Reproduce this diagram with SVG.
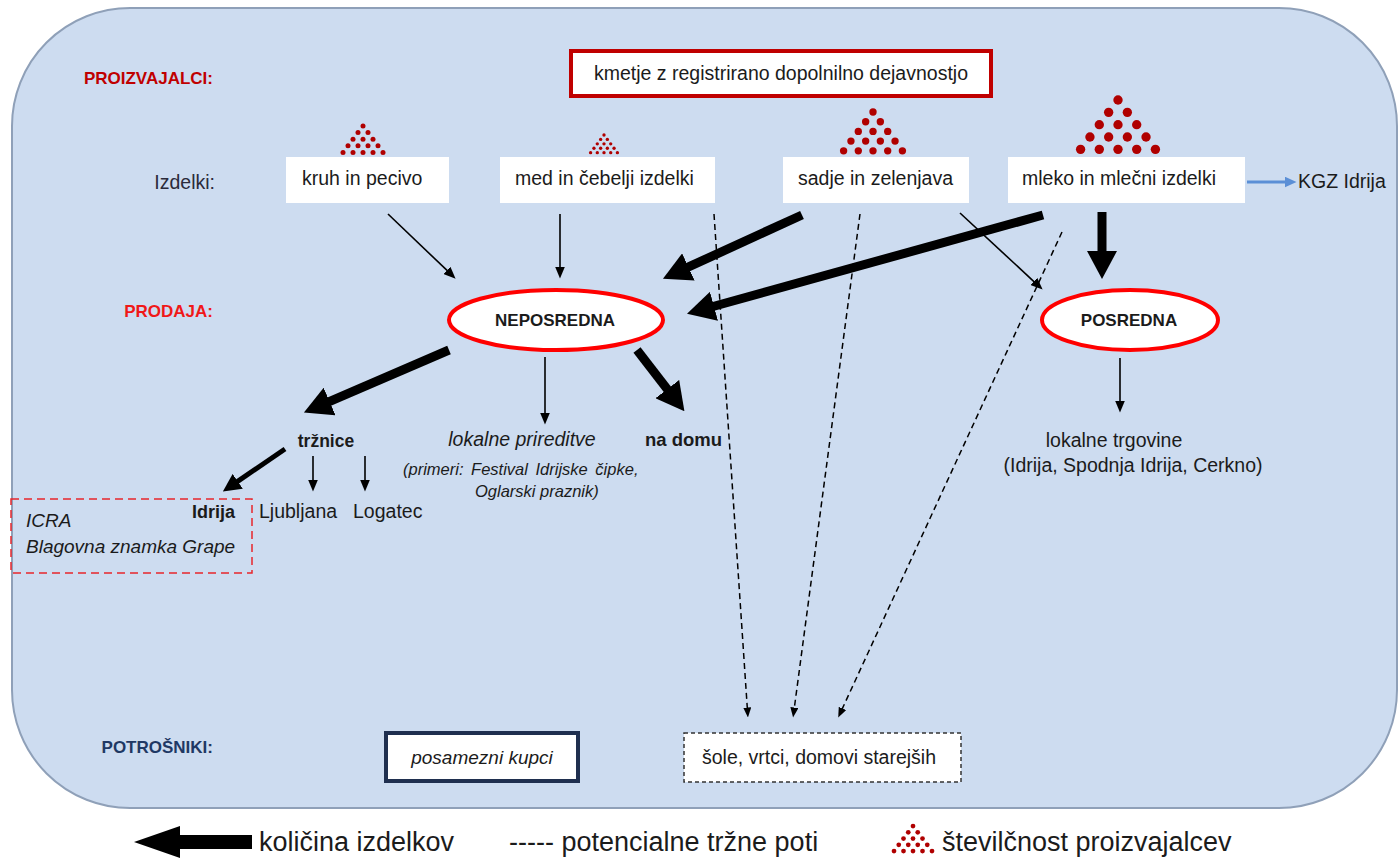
<svg xmlns="http://www.w3.org/2000/svg" width="1399" height="859" viewBox="0 0 1399 859">
<defs>
<style>
text{font-family:"Liberation Sans",Arial,sans-serif;fill:#1b1b1b}
.hdr{font-weight:bold;font-size:17px}
.box{font-size:19.5px}
.wb{fill:#fff}
.ell{fill:#fff;stroke:#ff0000;stroke-width:4}
.b{font-weight:bold}
.it{font-style:italic}
.thin{stroke:#000;stroke-width:1.6;fill:none}
.thick{stroke:#000;stroke-width:9;fill:none}
.mid{stroke:#000;stroke-width:5;fill:none}
.dash{stroke:#000;stroke-width:1.5;stroke-dasharray:6 4;fill:none}
.leg{font-size:27px}
</style>
<marker id="hThin" markerUnits="userSpaceOnUse" viewBox="0 0 12 10" markerWidth="12" markerHeight="10" refX="0.5" refY="5" orient="auto"><path d="M0,0 L12,5 L0,10 z" fill="#000"/></marker>
<marker id="hThick" markerUnits="userSpaceOnUse" viewBox="0 0 28 30" markerWidth="28" markerHeight="30" refX="1" refY="15" orient="auto"><path d="M0,0 L28,15 L0,30 z" fill="#000"/></marker>
<marker id="hMid" markerUnits="userSpaceOnUse" viewBox="0 0 18 18" markerWidth="18" markerHeight="18" refX="1" refY="9" orient="auto"><path d="M0,0 L18,9 L0,18 z" fill="#000"/></marker>
<marker id="hDash" markerUnits="userSpaceOnUse" viewBox="0 0 10 8" markerWidth="10" markerHeight="8" refX="0.5" refY="4" orient="auto"><path d="M0,0 L10,4 L0,8 z" fill="#000"/></marker>
<marker id="hBlue" markerUnits="userSpaceOnUse" viewBox="0 0 12 11" markerWidth="12" markerHeight="11" refX="0.5" refY="5.5" orient="auto"><path d="M0,0 L12,5.5 L0,11 z" fill="#5b8fd6"/></marker>
<g id="tri" fill="#b00000">
<circle cx="0" cy="0" r="2.5"/>
<circle cx="-5" cy="6.6" r="2.5"/><circle cx="5" cy="6.6" r="2.5"/>
<circle cx="-10" cy="13.2" r="2.5"/><circle cx="0" cy="13.2" r="2.5"/><circle cx="10" cy="13.2" r="2.5"/>
<circle cx="-15" cy="19.8" r="2.5"/><circle cx="-5" cy="19.8" r="2.5"/><circle cx="5" cy="19.8" r="2.5"/><circle cx="15" cy="19.8" r="2.5"/>
<circle cx="-20" cy="26.4" r="2.5"/><circle cx="-10" cy="26.4" r="2.5"/><circle cx="0" cy="26.4" r="2.5"/><circle cx="10" cy="26.4" r="2.5"/><circle cx="20" cy="26.4" r="2.5"/>
</g>
</defs>

<g id="background">
<rect x="12" y="8" width="1385" height="800" rx="118" ry="118" fill="#cddcf0" stroke="#8fa0b8" stroke-width="2"/>
</g>

<g id="labels">
<text class="hdr" x="213" y="84" text-anchor="end" style="fill:#c00000">PROIZVAJALCI:</text>
<text x="215" y="189" text-anchor="end" font-size="19.5" style="fill:#2b2b3b">Izdelki:</text>
<text class="hdr" x="213" y="317" text-anchor="end" style="fill:#f01818">PRODAJA:</text>
<text class="hdr" x="213" y="753" text-anchor="end" style="fill:#1f3864">POTROŠNIKI:</text>
</g>

<g id="n-kmetje">
<rect x="571" y="51" width="420" height="45" fill="#fff" stroke="#c00000" stroke-width="4"/>
<text class="box" x="781" y="80" text-anchor="middle">kmetje z registrirano dopolnilno dejavnostjo</text>
</g>

<g id="n-kruh">
<use href="#tri" transform="translate(363,126)"/>
<rect class="wb" x="286" y="157" width="163" height="46"/>
<text class="box" x="302" y="185">kruh in pecivo</text>
</g>
<g id="n-med">
<use href="#tri" transform="translate(604,135) scale(0.67)"/>
<rect class="wb" x="500" y="157" width="215" height="46"/>
<text class="box" x="515" y="185">med in čebelji izdelki</text>
</g>
<g id="n-sadje">
<use href="#tri" transform="translate(873,112) scale(1.47)"/>
<rect class="wb" x="783" y="157" width="186" height="46"/>
<text class="box" x="798" y="185">sadje in zelenjava</text>
</g>
<g id="n-mleko">
<use href="#tri" transform="translate(1118,100) scale(1.87)"/>
<rect class="wb" x="1008" y="157" width="237" height="46"/>
<text class="box" x="1022" y="185">mleko in mlečni izdelki</text>
</g>
<g id="n-kgz">
<text class="box" x="1298" y="188">KGZ Idrija</text>
</g>

<g id="n-neposredna">
<ellipse class="ell" cx="556" cy="320" rx="107" ry="30"/>
<text class="b" x="555" y="326" font-size="17" text-anchor="middle">NEPOSREDNA</text>
</g>
<g id="n-posredna">
<ellipse class="ell" cx="1130" cy="320" rx="88" ry="30"/>
<text class="b" x="1129" y="326" font-size="17" text-anchor="middle">POSREDNA</text>
</g>

<g id="n-trznice">
<text class="b" x="326" y="447" font-size="17.5" text-anchor="middle">tržnice</text>
</g>
<g id="n-idrija">
<rect x="11" y="499" width="241" height="74" fill="none" stroke="#e8262b" stroke-width="1.5" stroke-dasharray="8 5"/>
<text class="b" x="235" y="518" font-size="18" text-anchor="end">Idrija</text>
<text class="it" x="26" y="527" font-size="19">ICRA</text>
<text class="it" x="26" y="553" font-size="19">Blagovna znamka Grape</text>
</g>
<g id="n-ljubljana"><text class="box" x="259" y="518">Ljubljana</text></g>
<g id="n-logatec"><text class="box" x="353" y="518">Logatec</text></g>

<g id="n-prireditve">
<text class="it" x="522" y="446" font-size="19.5" text-anchor="middle">lokalne prireditve</text>
<text class="it" x="403" y="475" font-size="16.5" word-spacing="3">(primeri: Festival Idrijske čipke,</text>
<text class="it" x="475" y="497" font-size="16.5">Oglarski praznik)</text>
</g>
<g id="n-nadomu"><text class="b" x="645" y="446" font-size="18.5">na domu</text></g>

<g id="n-trgovine">
<text class="box" x="1114" y="447" text-anchor="middle">lokalne trgovine</text>
<text class="box" x="1133" y="472" text-anchor="middle">(Idrija, Spodnja Idrija, Cerkno)</text>
</g>

<g id="n-posamezni">
<rect x="386" y="733" width="192" height="48" fill="#fff" stroke="#1f2f4f" stroke-width="4"/>
<text class="it" x="482" y="764" font-size="19" text-anchor="middle">posamezni kupci</text>
</g>
<g id="n-sole">
<rect x="684" y="733" width="277" height="49" fill="#fff" stroke="#333" stroke-width="1.5" stroke-dasharray="4 3"/>
<text x="819" y="764" font-size="19.5" text-anchor="middle">šole, vrtci, domovi starejših</text>
</g>

<g id="connectors">
<line class="thin" x1="388" y1="214" x2="447.3" y2="270.7" marker-end="url(#hThin)"/>
<line class="thin" x1="560" y1="214" x2="560" y2="267" marker-end="url(#hThin)"/>
<line class="thin" x1="960" y1="213" x2="1034.2" y2="281.8" marker-end="url(#hThin)"/>
<line class="thin" x1="545" y1="357" x2="545" y2="413" marker-end="url(#hThin)"/>
<line class="thin" x1="1120" y1="358" x2="1120" y2="401" marker-end="url(#hThin)"/>
<line class="thin" x1="313" y1="456" x2="313" y2="480" marker-end="url(#hThin)"/>
<line class="thin" x1="365" y1="456" x2="365" y2="480" marker-end="url(#hThin)"/>

<line class="thick" x1="802" y1="215" x2="687.5" y2="267.4" marker-end="url(#hThick)"/>
<line class="thick" x1="1043" y1="215" x2="713" y2="306.5" marker-end="url(#hThick)"/>
<line class="thick" x1="1102" y1="212" x2="1102" y2="252" marker-end="url(#hThick)"/>
<line class="thick" x1="449" y1="350" x2="328.7" y2="401.9" marker-end="url(#hThick)"/>
<line class="thick" x1="637" y1="350" x2="667.9" y2="389.9" marker-end="url(#hThick)"/>
<line class="mid" x1="285" y1="449" x2="236.9" y2="481.9" marker-end="url(#hMid)"/>

<line class="dash" x1="714" y1="214" x2="747.3" y2="708" marker-end="url(#hDash)"/>
<line class="dash" x1="860" y1="214" x2="794.3" y2="708.1" marker-end="url(#hDash)"/>
<line class="dash" x1="1062" y1="232" x2="842.2" y2="708.9" marker-end="url(#hDash)"/>

<line x1="1247" y1="182" x2="1285" y2="182" stroke="#5b8fd6" stroke-width="3" marker-end="url(#hBlue)"/>
</g>

<g id="legend">
<polygon points="134,842 180,826 180,835 252,835 252,849 180,849 180,858" fill="#000"/>
<text class="leg" x="259" y="851">količina izdelkov</text>
<text class="leg" x="509" y="851">----- potencialne tržne poti</text>
<use href="#tri" transform="translate(913,826) scale(0.95)"/>
<text class="leg" x="942" y="851">številčnost proizvajalcev</text>
</g>
</svg>
